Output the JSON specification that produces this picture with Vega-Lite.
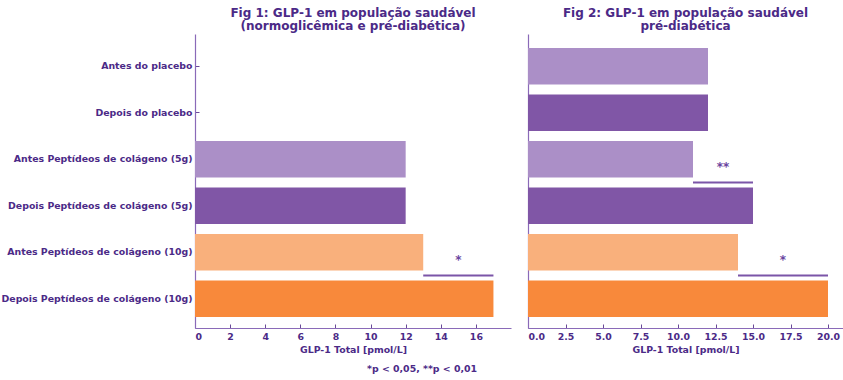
{
  "$schema": "https://vega.github.io/schema/vega-lite/v6.json",
  "padding": {"left": 1, "top": 7, "right": 0, "bottom": 0},
  "background": "white",
  "config": {
    "font": "DejaVu Sans",
    "view": {"stroke": null},
    "axis": {
      "labelFont": "DejaVu Sans", "labelFontWeight": "bold", "labelFontSize": 9.4, "labelColor": "#4b2a87",
      "titleFont": "DejaVu Sans", "titleFontWeight": "bold", "titleFontSize": 9.4, "titleColor": "#4b2a87",
      "domainColor": "#8a6ab8", "domainWidth": 1.2, "tickColor": "#6a4a98", "grid": false,
      "labelLimit": 0, "labelOverlap": false
    }
  },
  "title": {"text": "*p < 0,05, **p < 0,01", "orient": "bottom", "anchor": "middle", "fontSize": 9.4, "fontWeight": "bold", "color": "#4b2a87", "font": "DejaVu Sans", "offset": 11},
  "spacing": 16,
  "datasets": {
    "bars": [
      {"fig": 1, "grupo": "Antes Peptídeos de colágeno (5g)", "valor": 12},
      {"fig": 1, "grupo": "Depois Peptídeos de colágeno (5g)", "valor": 12},
      {"fig": 1, "grupo": "Antes Peptídeos de colágeno (10g)", "valor": 13},
      {"fig": 1, "grupo": "Depois Peptídeos de colágeno (10g)", "valor": 17},
      {"fig": 2, "grupo": "Antes do placebo", "valor": 12},
      {"fig": 2, "grupo": "Depois do placebo", "valor": 12},
      {"fig": 2, "grupo": "Antes Peptídeos de colágeno (5g)", "valor": 11},
      {"fig": 2, "grupo": "Depois Peptídeos de colágeno (5g)", "valor": 15},
      {"fig": 2, "grupo": "Antes Peptídeos de colágeno (10g)", "valor": 14},
      {"fig": 2, "grupo": "Depois Peptídeos de colágeno (10g)", "valor": 20}
    ],
    "sig": [
      {"fig": 1, "grupo": "Antes Peptídeos de colágeno (10g)", "x1": 13, "x2": 17, "xm": 15, "marca": "*"},
      {"fig": 2, "grupo": "Antes Peptídeos de colágeno (5g)", "x1": 11, "x2": 15, "xm": 13, "marca": "**"},
      {"fig": 2, "grupo": "Antes Peptídeos de colágeno (10g)", "x1": 14, "x2": 20, "xm": 17, "marca": "*"}
    ]
  },
  "hconcat": [
    {
      "width": 316, "height": 294,
      "title": {"text": ["Fig 1: GLP-1 em população saudável", "(normoglicêmica e pré-diabética)"], "fontSize": 12, "fontWeight": "bold", "color": "#4b2a87", "font": "DejaVu Sans", "lineHeight": 13, "offset": 1, "anchor": "middle"},
      "layer": [
        {
          "data": {"name": "bars"},
          "transform": [{"filter": "datum.fig == 1"}],
          "mark": {"type": "bar"},
          "encoding": {
            "y": {"field": "grupo", "type": "nominal", "sort": null, "title": null,
              "scale": {"domain": ["Antes do placebo", "Depois do placebo", "Antes Peptídeos de colágeno (5g)", "Depois Peptídeos de colágeno (5g)", "Antes Peptídeos de colágeno (10g)", "Depois Peptídeos de colágeno (10g)"], "paddingInner": 0.217, "paddingOuter": 0.27, "align": 0.56},
              "axis": {"tickSize": -4, "labelPadding": 7}},
            "x": {"field": "valor", "type": "quantitative", "title": "GLP-1 Total [pmol/L]",
              "scale": {"domain": [0, 18], "nice": false},
              "axis": {"values": [0, 2, 4, 6, 8, 10, 12, 14, 16], "labelOverlap": false, "tickSize": -4, "labelPadding": 8, "titlePadding": 5}},
            "color": {"field": "grupo", "type": "nominal", "legend": null,
              "scale": {"domain": ["Antes do placebo", "Depois do placebo", "Antes Peptídeos de colágeno (5g)", "Depois Peptídeos de colágeno (5g)", "Antes Peptídeos de colágeno (10g)", "Depois Peptídeos de colágeno (10g)"],
                "range": ["#ab8fc7", "#8056a6", "#ab8fc7", "#8056a6", "#f9b07c", "#f8893b"]}}
          }
        },
        {
          "data": {"name": "sig"},
          "transform": [{"filter": "datum.fig == 1"}],
          "mark": {"type": "rule", "color": "#7b55a8", "strokeWidth": 2, "yOffset": 5},
          "encoding": {
            "y": {"field": "grupo", "type": "nominal", "bandPosition": 1, "title": null, "axis": {"tickSize": -4, "labelPadding": 7}},
            "x": {"field": "x1", "type": "quantitative", "title": "GLP-1 Total [pmol/L]",
              "axis": {"values": [0, 2, 4, 6, 8, 10, 12, 14, 16], "labelOverlap": false, "tickSize": -4, "labelPadding": 8, "titlePadding": 5}},
            "x2": {"field": "x2"}
          }
        },
        {
          "data": {"name": "sig"},
          "transform": [{"filter": "datum.fig == 1"}],
          "mark": {"type": "text", "color": "#6a45a0", "fontSize": 12, "fontWeight": "bold", "baseline": "alphabetic", "dy": -6},
          "encoding": {
            "y": {"field": "grupo", "type": "nominal", "bandPosition": 1, "title": null, "axis": {"tickSize": -4, "labelPadding": 7}},
            "x": {"field": "xm", "type": "quantitative", "title": "GLP-1 Total [pmol/L]",
              "axis": {"values": [0, 2, 4, 6, 8, 10, 12, 14, 16], "labelOverlap": false, "tickSize": -4, "labelPadding": 8, "titlePadding": 5}},
            "text": {"field": "marca"}
          }
        }
      ]
    },
    {
      "width": 315, "height": 294,
      "title": {"text": ["Fig 2: GLP-1 em população saudável", "pré-diabética"], "fontSize": 12, "fontWeight": "bold", "color": "#4b2a87", "font": "DejaVu Sans", "lineHeight": 13, "offset": 1, "anchor": "middle"},
      "layer": [
        {
          "data": {"name": "bars"},
          "transform": [{"filter": "datum.fig == 2"}],
          "mark": {"type": "bar"},
          "encoding": {
            "y": {"field": "grupo", "type": "nominal", "sort": null, "title": null,
              "scale": {"domain": ["Antes do placebo", "Depois do placebo", "Antes Peptídeos de colágeno (5g)", "Depois Peptídeos de colágeno (5g)", "Antes Peptídeos de colágeno (10g)", "Depois Peptídeos de colágeno (10g)"], "paddingInner": 0.217, "paddingOuter": 0.27, "align": 0.56},
              "axis": {"labels": false, "tickSize": -4}},
            "x": {"field": "valor", "type": "quantitative", "title": "GLP-1 Total [pmol/L]",
              "scale": {"domain": [0, 21], "nice": false},
              "axis": {"values": [0, 2.5, 5, 7.5, 10, 12.5, 15, 17.5, 20], "labelOverlap": false, "format": ".1f", "tickSize": -4, "labelPadding": 8, "titlePadding": 5}},
            "color": {"field": "grupo", "type": "nominal", "legend": null,
              "scale": {"domain": ["Antes do placebo", "Depois do placebo", "Antes Peptídeos de colágeno (5g)", "Depois Peptídeos de colágeno (5g)", "Antes Peptídeos de colágeno (10g)", "Depois Peptídeos de colágeno (10g)"],
                "range": ["#ab8fc7", "#8056a6", "#ab8fc7", "#8056a6", "#f9b07c", "#f8893b"]}}
          }
        },
        {
          "data": {"name": "sig"},
          "transform": [{"filter": "datum.fig == 2"}],
          "mark": {"type": "rule", "color": "#7b55a8", "strokeWidth": 2, "yOffset": 5},
          "encoding": {
            "y": {"field": "grupo", "type": "nominal", "bandPosition": 1, "title": null, "axis": {"labels": false, "tickSize": -4}},
            "x": {"field": "x1", "type": "quantitative", "title": "GLP-1 Total [pmol/L]",
              "axis": {"values": [0, 2.5, 5, 7.5, 10, 12.5, 15, 17.5, 20], "labelOverlap": false, "format": ".1f", "tickSize": -4, "labelPadding": 8, "titlePadding": 5}},
            "x2": {"field": "x2"}
          }
        },
        {
          "data": {"name": "sig"},
          "transform": [{"filter": "datum.fig == 2"}],
          "mark": {"type": "text", "color": "#6a45a0", "fontSize": 12, "fontWeight": "bold", "baseline": "alphabetic", "dy": -6},
          "encoding": {
            "y": {"field": "grupo", "type": "nominal", "bandPosition": 1, "title": null, "axis": {"labels": false, "tickSize": -4}},
            "x": {"field": "xm", "type": "quantitative", "title": "GLP-1 Total [pmol/L]",
              "axis": {"values": [0, 2.5, 5, 7.5, 10, 12.5, 15, 17.5, 20], "labelOverlap": false, "format": ".1f", "tickSize": -4, "labelPadding": 8, "titlePadding": 5}},
            "text": {"field": "marca"}
          }
        }
      ]
    }
  ]
}
